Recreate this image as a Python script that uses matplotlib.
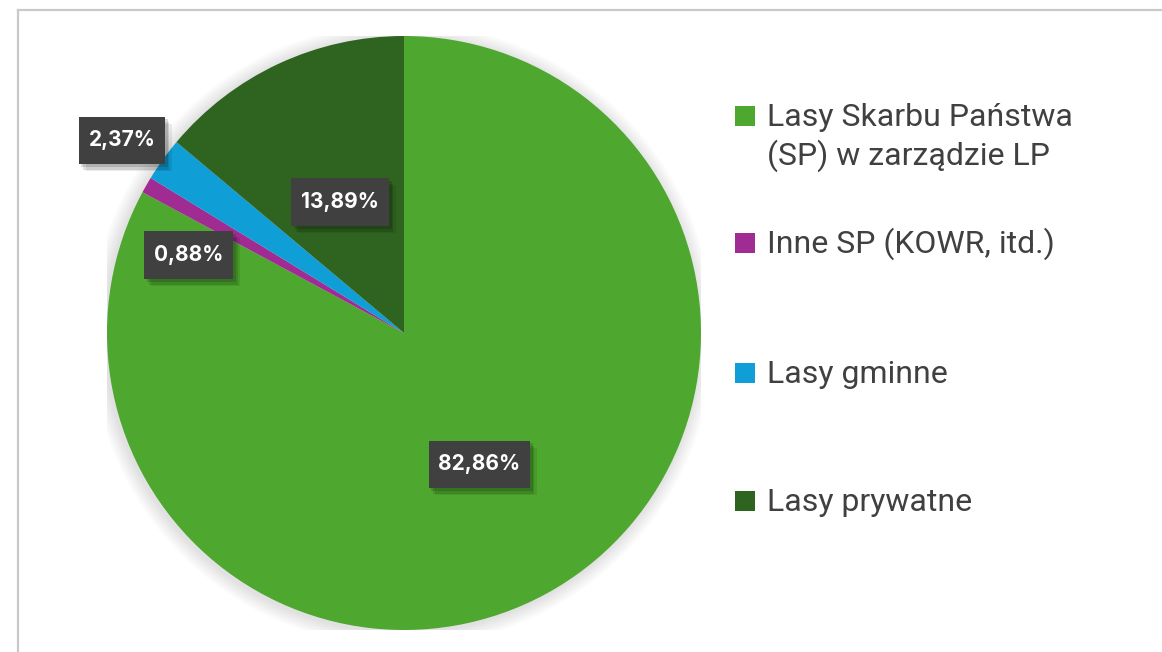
import numpy as np
import matplotlib
matplotlib.use("Agg")
import matplotlib.pyplot as plt
from matplotlib.patches import Rectangle, Circle
from matplotlib.lines import Line2D
from matplotlib.path import Path
import matplotlib.patheffects as pe

# ---- data ----
categories = ["Lasy Skarbu Państwa\n(SP) w zarządzie LP", "Inne SP (KOWR, itd.)",
              "Lasy gminne", "Lasy prywatne"]
values = [82.86, 0.88, 2.37, 13.89]
colors = ["#4EA72E", "#A02B93", "#0F9ED5", "#2F6420"]
label_radius = [0.51, 0.77, 1.15, 0.49]
label_angle_shift = [-1.0, 10.0, 1.4, 1.0]

W, H = 1162, 652
fig = plt.figure(figsize=(W / 100, H / 100), dpi=100)
fig.patch.set_facecolor("white")

# frame
fig.add_artist(Line2D([17.5 / W, 1.0], [1 - 9.5 / H, 1 - 9.5 / H], color="#c9c9c9", lw=1.6))
fig.add_artist(Line2D([17.5 / W, 17.5 / W], [0, 1 - 9.5 / H], color="#c9c9c9", lw=1.6))

cx, cy, R = 404, 333, 297
ax = fig.add_axes([(cx - R) / W, (H - cy - R) / H, 2 * R / W, 2 * R / H])
ax.axis("off")

# soft shadow
for k in range(10):
    ax.add_patch(Circle((-0.006, -0.006), 1.0 + 0.005 * (k + 1), color="black",
                        alpha=0.01, lw=0, zorder=0))

wedges, _ = ax.pie(values, colors=colors, startangle=90, counterclock=False, radius=1,
                   wedgeprops=dict(linewidth=0), frame=False)
ax.set_xlim(-1, 1)
ax.set_ylim(-1, 1)
ax.set_aspect("equal")


def label_box(x0, y0, width, height, mutation_size):
    px = 0.47 * mutation_size
    py = 0.66 * mutation_size
    x1, y1 = x0 - px, y0 - py
    x2, y2 = x0 + width + px, y0 + height + py
    return Path([(x1, y1), (x2, y1), (x2, y2), (x1, y2), (x1, y1)], closed=True)


for w, v, r, sh in zip(wedges, values, label_radius, label_angle_shift):
    mid = np.deg2rad((w.theta1 + w.theta2) / 2 + sh)
    txt = f"{v:.2f}".replace(".", ",") + "%"
    t = ax.text(r * np.cos(mid), r * np.sin(mid), txt, ha="center", va="center",
                color="white", fontsize=15, fontweight="bold", family="Inter",
                bbox=dict(boxstyle=label_box, facecolor="#404040",
                          edgecolor="none", linewidth=0),
                zorder=5, clip_on=False)
    t.get_bbox_patch().set_path_effects([
        pe.SimplePatchShadow(offset=(2, -2), shadow_rgbFace="black", alpha=0.14),
        pe.SimplePatchShadow(offset=(3, -4), shadow_rgbFace="black", alpha=0.12),
        pe.SimplePatchShadow(offset=(5, -5), shadow_rgbFace="black", alpha=0.08),
        pe.Normal()])

# legend (manual)
baselines = [126, 253, 383, 511]
line_step = 39
for col, lab, b in zip(colors, categories, baselines):
    fig.add_artist(Rectangle((735 / W, (H - b) / H), 20 / W, 20 / H,
                             transform=fig.transFigure, facecolor=col, lw=0))
    for i, line in enumerate(lab.split("\n")):
        fig.text(767 / W, (H - b - i * line_step) / H, line, ha="left", va="baseline",
                 fontsize=23, family="Roboto", color="#404040")

fig.savefig("out.png", dpi=100, facecolor="white")
